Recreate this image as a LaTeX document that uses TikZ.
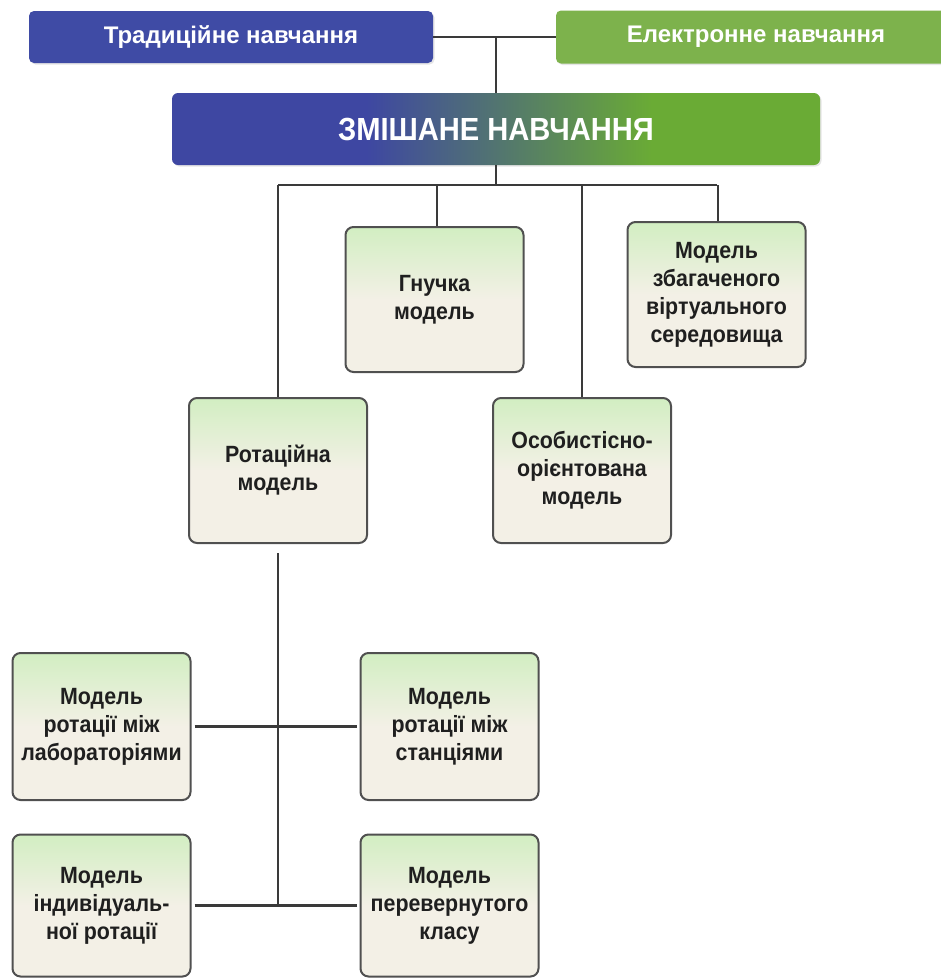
\documentclass[tikz,border=0pt]{standalone}
\usepackage{fontspec}
\setmainfont{Liberation Sans}
\newfontfamily\narrowfont{Liberation Sans}[FakeStretch=0.91]
\usetikzlibrary{shadows}

\definecolor{tradblue}{HTML}{3F4BA5}
\definecolor{elgreen}{HTML}{7DB24C}
\definecolor{mixL}{HTML}{3E47A2}
\definecolor{mixR}{HTML}{6AAB35}
\definecolor{boxtop}{HTML}{D2EEC2}
\definecolor{boxbot}{HTML}{F3F0E6}
\definecolor{edgegray}{HTML}{505050}
\definecolor{wiregray}{HTML}{3A3A3A}

% left-to-right blend from blue to green for the central banner
\pgfdeclarehorizontalshading{mixfill}{100bp}{%
  color(0bp)=(mixL); color(40bp)=(mixL); color(62bp)=(mixR); color(100bp)=(mixR)}
% light green at the top fading into beige for the model boxes
\pgfdeclareverticalshading{modelfill}{100bp}{%
  color(0bp)=(boxbot); color(50bp)=(boxbot); color(75bp)=(boxtop); color(100bp)=(boxtop)}

\tikzset{
  topbox/.style={rounded corners=5pt, inner sep=0pt, text=white,
    font=\fontsize{24}{27}\selectfont\bfseries,
    drop shadow={opacity=0.2, shadow xshift=1.5pt, shadow yshift=-1.5pt}},
  mixbox/.style={rounded corners=6pt, inner sep=0pt, text=white, shading=mixfill,
    font=\narrowfont\fontsize{32}{36}\selectfont\bfseries,
    drop shadow={opacity=0.2, shadow xshift=1.5pt, shadow yshift=-1.5pt}},
  model/.style={draw=edgegray, line width=2pt, rounded corners=8pt,
    shading=modelfill, minimum width=178pt, minimum height=145pt,
    inner sep=0pt, align=center, text=black!88,
    font=\narrowfont\fontsize{23.5}{28}\selectfont\bfseries},
  wire/.style={draw=wiregray, line width=2.4pt}
}

\begin{document}
\begin{tikzpicture}[x=1pt,y=-1pt]
\clip (0,0) rectangle (941,978);
\fill[white] (0,0) rectangle (941,978);

% top row
\node[topbox, fill=tradblue, minimum width=404pt, minimum height=52pt] (trad) at (231,37) {Традиційне навчання};
\node[topbox, fill=elgreen, minimum width=400pt, minimum height=53pt] (elec) at (756,37) {Електронне навчання};
\node[mixbox, minimum width=648pt, minimum height=72pt] (mix) at (496,129) {ЗМІШАНЕ НАВЧАННЯ};

% model boxes
\node[model] (flex) at (434.5,299.5) {Гнучка\\модель};
\node[model] (virt) at (716.5,294.5) {Модель\\збагаченого\\віртуального\\середовища};
\node[model] (rot)  at (278,470.5) {Ротаційна\\модель};
\node[model] (pers) at (582,470.5) {Особистісно-\\орієнтована\\модель};
\node[model, minimum height=147pt] (lab)  at (101.5,726.5) {Модель\\ротації між\\лабораторіями};
\node[model, minimum height=147pt] (stat) at (449.5,726.5) {Модель\\ротації між\\станціями};
\node[model, minimum height=142pt] (ind)  at (101.5,905.5) {Модель\\індивідуаль-\\ної ротації};
\node[model, minimum height=142pt] (flip) at (449.5,905.5) {Модель\\перевернутого\\класу};

% connectors
\coordinate (bus) at (496,185);
\draw[wire] (trad.east) -- (elec.west);
\draw[wire] (mix.north) -- (mix.north |- trad.east);
\draw[wire] (mix.south) -- (bus);
\draw[wire] (rot.north |- bus) -- (virt.north |- bus);
\draw[wire] (rot.north |- bus) -- (rot.north);
\draw[wire] ([xshift=2.5pt]flex.north |- bus) -- ([xshift=2.5pt]flex.north);
\draw[wire] (pers.north |- bus) -- (pers.north);
\draw[wire] ([xshift=1.5pt]virt.north |- bus) -- ([xshift=1.5pt]virt.north);

\coordinate (spine) at ([yshift=-9pt]rot.south);
\coordinate (spineEnd) at (rot.south |- ind.east);
\draw[wire] (spine) -- (spineEnd);
\draw[wire] ([xshift=3pt]lab.east) -- ([xshift=-3pt]stat.west);
\draw[wire] ([xshift=3pt]ind.east) -- ([xshift=-3pt]flip.west);
\end{tikzpicture}
\end{document}
